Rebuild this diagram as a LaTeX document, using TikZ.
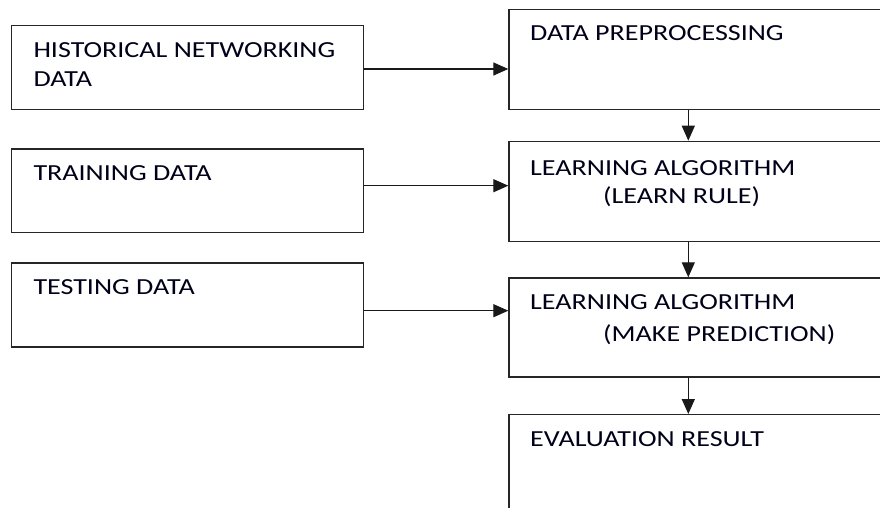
\documentclass[tikz,border=0pt]{standalone}
\usepackage{fontspec}
\setmainfont{Carlito}
\newfontfamily\widefont[FakeStretch=1.22]{Carlito}
\usetikzlibrary{arrows.meta}
\begin{document}
\begin{tikzpicture}[x=1pt,y=-1pt,
  box/.style={draw=black!85,line width=1.3pt,rectangle,inner sep=0pt,anchor=north west},
  lbl/.style={anchor=base west,inner sep=0pt,font=\widefont\fontsize{23}{28}\selectfont,text=black!90!blue},
  conn/.style={draw=black!90,line width=1.3pt,-{Triangle[length=15pt,width=13pt]}}]
\useasboundingbox (0,0) rectangle (880,508);
\clip (0,0) rectangle (880,508);
\fill[white] (0,0) rectangle (880,508);
% left boxes
\node[box,minimum width=352pt,minimum height=84pt] (b1) at (10.7,25) {};
\node[box,minimum width=352pt,minimum height=83.4pt] (b2) at (10.7,148.3) {};
\node[box,minimum width=352pt,minimum height=84pt] (b3) at (10.7,262.3) {};
% right boxes
\node[box,minimum width=400pt,minimum height=100pt] (bA) at (508.3,9) {};
\node[box,minimum width=400pt,minimum height=100pt] (bB) at (508.3,140.7) {};
\node[box,minimum width=400pt,minimum height=99pt] (bC) at (508.3,277.3) {};
\node[box,minimum width=400pt,minimum height=130pt] (bD) at (508.3,414) {};
% texts
\node[lbl] (t1a) at (33.3,58) {HISTORICAL NETWORKING};
\node[lbl] (t1b) at (33.3,87) {DATA};
\node[lbl] (t2) at (33.3,180) {TRAINING DATA};
\node[lbl] (t3) at (33.3,294.7) {TESTING DATA};
\node[lbl] (tA) at (530,41) {DATA PREPROCESSING};
\node[lbl] (tB1) at (530,175) {LEARNING ALGORITHM};
\node[lbl] (tB2) at (603,203) {(LEARN RULE)};
\node[lbl] (tC1) at (530,309) {LEARNING ALGORITHM};
\node[lbl] (tC2) at (603,341.3) {(MAKE PREDICTION)};
\node[lbl] (tD) at (530,446) {EVALUATION RESULT};
% connectors
\coordinate (ax) at (688.3,0);
\coordinate (h1) at (0,69);
\coordinate (h2) at (0,185.7);
\coordinate (h3) at (0,310.7);
\draw[conn] (b1.east |- h1) -- (bA.west |- h1);
\draw[conn] (b2.east |- h2) -- (bB.west |- h2);
\draw[conn] (b3.east |- h3) -- (bC.west |- h3);
\draw[conn] (bA.south -| ax) -- (bB.north -| ax);
\draw[conn] (bB.south -| ax) -- (bC.north -| ax);
\draw[conn] (bC.south -| ax) -- (bD.north -| ax);
\end{tikzpicture}
\end{document}
